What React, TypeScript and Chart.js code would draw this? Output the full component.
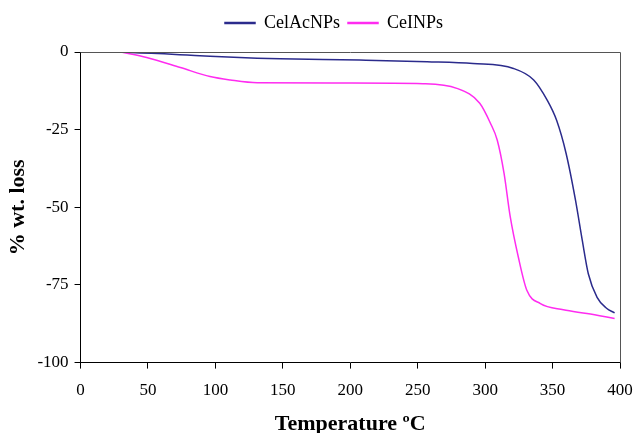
import React, { useEffect, useRef } from "react";
import { Chart, registerables } from "chart.js";

Chart.register(...registerables);

const temperatureCelAc = [30, 44, 62, 79, 96, 131, 148, 207, 257, 291, 321, 336, 346, 353, 360, 367, 372, 376.5, 383, 390, 396];
const lossCelAc = [0, -0.3, -0.6, -1, -1.4, -2, -2.2, -2.6, -3.1, -3.7, -5.3, -9, -15.5, -22, -32.6, -47.7, -60.6, -71.4, -79, -82.5, -84];

const temperatureCel = [30, 49, 74, 96, 111, 131, 200, 254, 279, 296, 304, 309, 314, 318.6, 324.6, 331, 341, 358, 375.5, 396];
const lossCel = [0, -1.8, -5, -7.9, -9, -9.9, -10, -10.2, -11.7, -16.5, -23, -28.4, -39, -53, -66, -76.8, -81, -83, -84.2, -85.8];

const xTicks = [0, 50, 100, 150, 200, 250, 300, 350, 400];
const yTicks = [0, -25, -50, -75, -100];

const seriesNames = ["CelAcNPs", "CeINPs"];
const seriesColors = ["#2b2b8c", "#ff2cf0"];

const frame = {
  id: "frame",
  beforeInit(chart: any) {
    const lg = chart.legend;
    if (lg) {
      const orig = lg.fit;
      lg.fit = function () {
        orig.call(this);
        this.height += 10;
      };
    }
  },
  afterLayout(chart: any) {
    const lg = chart.legend;
    if (lg) {
      lg.left += 17;
      lg.right += 17;
    }
  },
  afterDraw(chart: any) {
    const { ctx, chartArea } = chart;
    ctx.save();
    ctx.strokeStyle = "#555";
    ctx.lineWidth = 1;
    ctx.beginPath();
    ctx.moveTo(chartArea.left, chartArea.top + 0.5);
    ctx.lineTo(chartArea.right + 0.5, chartArea.top + 0.5);
    ctx.lineTo(chartArea.right + 0.5, chartArea.bottom);
    ctx.stroke();
    ctx.restore();
  },
};

export default function App() {
  const ref = useRef<HTMLCanvasElement | null>(null);
  useEffect(() => {
    document.body.style.margin = "0";
    const pts = (xs: number[], ys: number[]) => xs.map((x, i) => ({ x, y: ys[i] }));
    const chart = new Chart(ref.current!, {
      type: "line",
      data: {
        datasets: [
          {
            label: seriesNames[0],
            data: pts(temperatureCelAc, lossCelAc),
            borderColor: seriesColors[0],
            backgroundColor: seriesColors[0],
            borderWidth: 1.5,
            pointRadius: 0,
            cubicInterpolationMode: "monotone",
          },
          {
            label: seriesNames[1],
            data: pts(temperatureCel, lossCel),
            borderColor: seriesColors[1],
            backgroundColor: seriesColors[1],
            borderWidth: 1.5,
            pointRadius: 0,
            cubicInterpolationMode: "monotone",
          },
        ],
      },
      options: {
        animation: false,
        responsive: false,
        layout: { padding: { left: 0, right: 0, top: 6, bottom: 0 } },
        plugins: {
          legend: {
            position: "top",
            labels: {
              boxWidth: 30,
              boxHeight: 1,
              color: "#000",
              font: { family: "Liberation Serif", size: 18 },
              padding: 8,
            },
          },
          tooltip: { enabled: false },
        },
        scales: {
          x: {
            type: "linear",
            min: 0,
            max: 400,
            afterBuildTicks: (s: any) => {
              s.ticks = xTicks.map((v) => ({ value: v }));
            },
            afterFit: (s: any) => {
              s.paddingRight = 14;
              s.paddingLeft = 0;
            },
            ticks: { color: "#000", font: { family: "Liberation Serif", size: 17 }, padding: 12 },
            grid: { drawOnChartArea: false, drawTicks: true, tickLength: 6, color: "#000" },
            border: { color: "#000", width: 1 },
            title: {
              display: true,
              text: "Temperature ºC",
              color: "#000",
              font: { family: "Liberation Serif", size: 22, weight: "bold", lineHeight: 1 },
              padding: { top: 0, bottom: -2 },
            },
          },
          y: {
            type: "linear",
            min: -100,
            max: 0,
            afterBuildTicks: (s: any) => {
              s.ticks = yTicks.map((v) => ({ value: v }));
            },
            ticks: { color: "#000", font: { family: "Liberation Serif", size: 17 }, padding: 6 },
            grid: { drawOnChartArea: false, drawTicks: true, tickLength: 6, color: "#000" },
            border: { color: "#000", width: 1 },
            title: {
              display: true,
              text: "% wt. loss",
              color: "#000",
              font: { family: "Liberation Serif", size: 22, weight: "bold", lineHeight: 1.2 },
              padding: { top: 5, bottom: 0 },
            },
          },
        },
      },
      plugins: [frame],
    } as any);
    return () => chart.destroy();
  }, []);
  return <canvas ref={ref} width={634} height={433} style={{ display: "block" }} />;
}
